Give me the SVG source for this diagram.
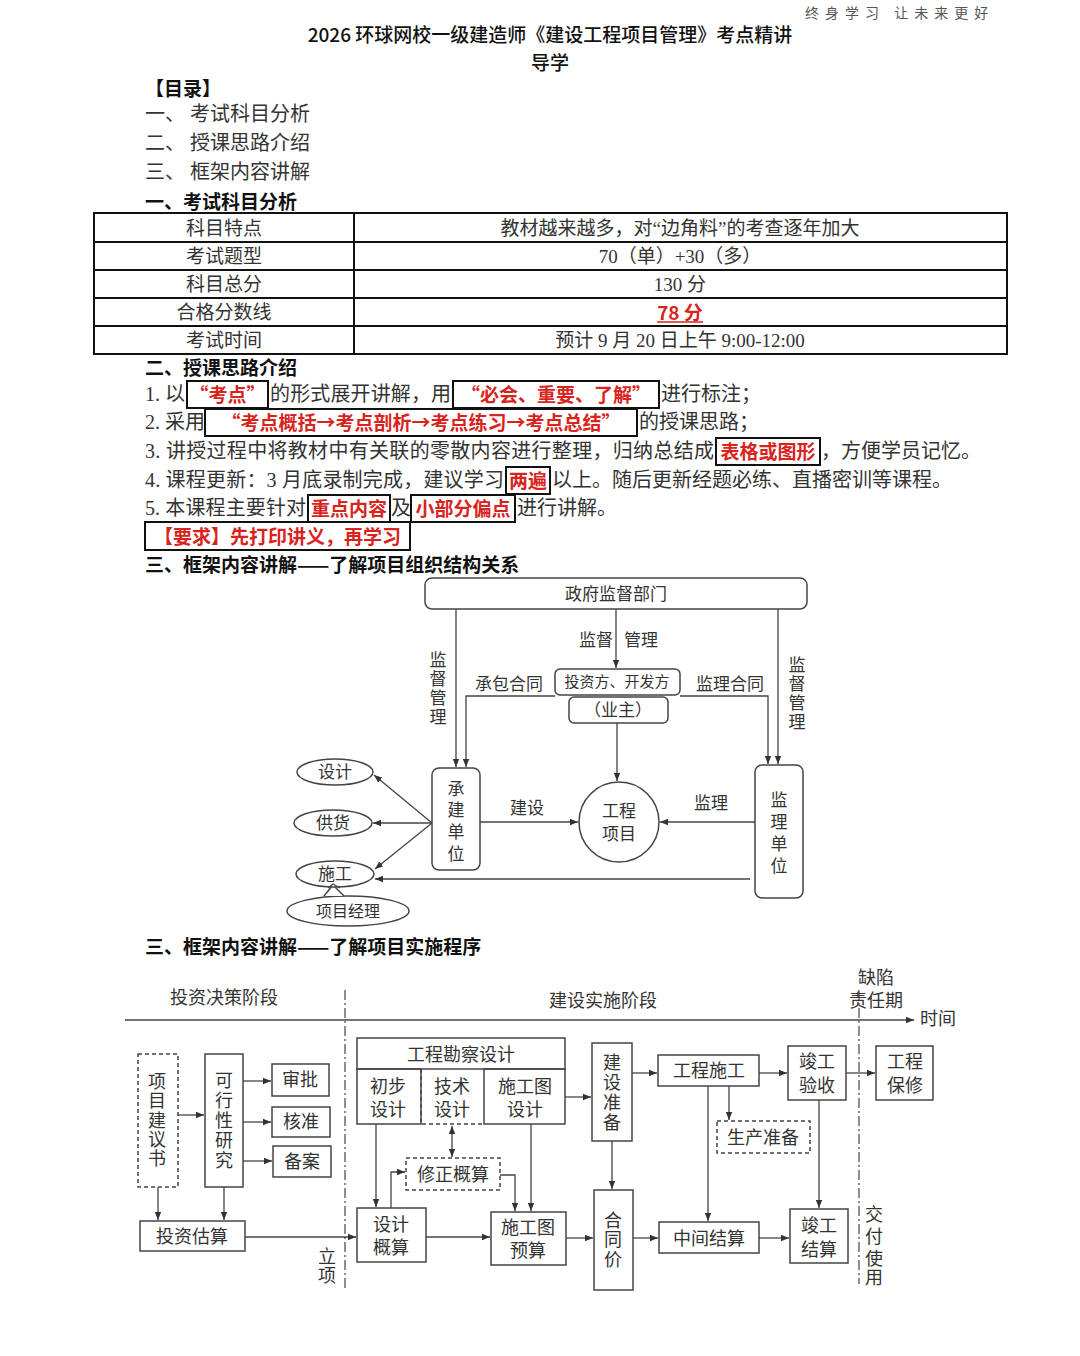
<svg xmlns="http://www.w3.org/2000/svg" width="1080" height="1356" viewBox="0 0 1080 1356">
<defs>
<style>
text{font-family:"Liberation Serif","Noto Sans CJK SC",serif;fill:#333;dominant-baseline:central}
.c{text-anchor:middle}
.h{font-family:"Noto Sans CJK SC",sans-serif;font-weight:700;fill:#111;font-size:19px}
.p{font-size:20px}
.r{font-family:"Noto Sans CJK SC",sans-serif;font-weight:700;fill:#d9231d;font-size:19px}
.tb{font-size:19px}
.o{font-size:17px}
.f{font-size:18px}
.bx{fill:none;stroke:#111;stroke-width:2}
.nd{fill:#fff;stroke:#444;stroke-width:1.5}
.dn{fill:#fff;stroke:#444;stroke-width:1.5;stroke-dasharray:4 3}
.ln{fill:none;stroke:#444;stroke-width:1.3}
.ar{fill:none;stroke:#444;stroke-width:1.3;marker-end:url(#a)}
.dd{fill:none;stroke:#444;stroke-width:1.2;stroke-dasharray:10 3 2 3}
</style>
<marker id="a" viewBox="0 0 10 10" refX="10" refY="5" markerWidth="8" markerHeight="8" markerUnits="userSpaceOnUse" orient="auto-start-reverse"><path d="M0,1 L10,5 L0,9z" fill="#333"/></marker>
</defs>
<rect width="1080" height="1356" fill="#fff"/>

<!-- header -->
<text x="805" y="12" style="font-family:'Noto Sans CJK SC',sans-serif;font-size:14px;fill:#555;letter-spacing:6px">终身学习 让未来更好</text>
<text x="550" y="33" class="c" style="font-family:'Noto Sans CJK SC',sans-serif;font-size:19px;font-weight:500;fill:#111">2026 环球网校一级建造师《建设工程项目管理》考点精讲</text>
<text x="550" y="61" class="c" style="font-family:'Noto Sans CJK SC',sans-serif;font-size:19px;font-weight:500;fill:#111">导学</text>

<!-- TOC -->
<text x="145" y="87" class="h">【目录】</text>
<text x="145" y="114" class="p">一、 考试科目分析</text>
<text x="145" y="143" class="p">二、 授课思路介绍</text>
<text x="145" y="172" class="p">三、 框架内容讲解</text>
<text x="145" y="200" class="h">一、考试科目分析</text>

<!-- table -->
<g id="table">
<rect x="94" y="213" width="913" height="141" class="bx"/>
<path d="M94 242H1007M94 270H1007M94 298H1007M94 326H1007M354 213V354" class="bx"/>
<text x="224" y="228" class="c tb">科目特点</text>
<text x="680" y="228" class="c tb">教材越来越多，对“边角料”的考查逐年加大</text>
<text x="224" y="256" class="c tb">考试题型</text>
<text x="680" y="256" class="c tb">70（单）+30（多）</text>
<text x="224" y="284" class="c tb">科目总分</text>
<text x="680" y="284" class="c tb">130 分</text>
<text x="224" y="312" class="c tb">合格分数线</text>
<text x="680" y="311" class="c r">78 分</text>
<path d="M657 322H703" stroke="#d9231d" stroke-width="1.5"/>
<text x="224" y="340" class="c tb">考试时间</text>
<text x="680" y="340" class="c tb">预计 9 月 20 日上午 9:00-12:00</text>
</g>

<!-- section 2 -->
<text x="145" y="366" class="h">二、授课思路介绍</text>
<g id="s2">
<text x="145" y="394" class="p">1. 以</text>
<rect x="187" y="381" width="81" height="27" class="bx"/>
<text x="227.5" y="393" class="c r">“考点”</text>
<text x="270" y="394" class="p" textLength="181" lengthAdjust="spacing">的形式展开讲解，用</text>
<rect x="453" y="381" width="206" height="27" class="bx"/>
<text x="556" y="393" class="c r">“必会、重要、了解”</text>
<text x="661" y="394" class="p">进行标注；</text>

<text x="145" y="422" class="p">2. 采用</text>
<rect x="205" y="409" width="432" height="27" class="bx"/>
<text x="421" y="421" class="c r">“考点概括→考点剖析→考点练习→考点总结”</text>
<text x="639" y="422" class="p">的授课思路；</text>

<text x="145" y="451" class="p" textLength="569" lengthAdjust="spacing">3. 讲授过程中将教材中有关联的零散内容进行整理，归纳总结成</text>
<rect x="716" y="438" width="104" height="27" class="bx"/>
<text x="768" y="450" class="c r">表格或图形</text>
<text x="821" y="451" class="p">，方便学员记忆。</text>

<text x="145" y="480" class="p" textLength="359" lengthAdjust="spacing">4. 课程更新：3 月底录制完成，建议学习</text>
<rect x="506" y="467" width="44" height="27" class="bx"/>
<text x="528" y="479" class="c r">两遍</text>
<text x="552" y="480" class="p">以上。随后更新经题必练、直播密训等课程。</text>

<text x="145" y="508" class="p" textLength="161" lengthAdjust="spacing">5. 本课程主要针对</text>
<rect x="308" y="495" width="82" height="27" class="bx"/>
<text x="349" y="507" class="c r">重点内容</text>
<text x="391" y="508" class="p">及</text>
<rect x="411" y="495" width="104" height="27" class="bx"/>
<text x="463" y="507" class="c r">小部分偏点</text>
<text x="517" y="508" class="p">进行讲解。</text>

<rect x="145" y="522" width="265" height="28" class="bx"/>
<text x="277.5" y="535" class="c r">【要求】先打印讲义，再学习</text>
</g>
<text x="145" y="563" class="h">三、框架内容讲解——了解项目组织结构关系</text>

<!-- org chart nodes -->
<g id="gov"><rect x="425" y="578" width="382" height="31" rx="7" class="nd"/><text x="616" y="594" class="c o">政府监督部门</text></g>
<g id="investor"><rect x="555" y="669" width="125" height="26" rx="5" class="nd"/><text x="617" y="682" class="c" style="font-size:15px">投资方、开发方</text></g>
<g id="owner"><rect x="569" y="697" width="99" height="26" rx="5" class="nd"/><text x="618" y="710" class="c o">（业主）</text></g>
<g id="contractor"><rect x="432" y="768" width="48" height="102" rx="7" class="nd"/>
<text x="456" y="789" class="c o">承</text><text x="456" y="810" class="c o">建</text><text x="456" y="832" class="c o">单</text><text x="456" y="854" class="c o">位</text></g>
<g id="supervisor"><rect x="755" y="765" width="48" height="133" rx="7" class="nd"/>
<text x="779" y="800" class="c o">监</text><text x="779" y="822" class="c o">理</text><text x="779" y="844" class="c o">单</text><text x="779" y="866" class="c o">位</text></g>
<g id="project"><circle cx="619" cy="822" r="40" class="nd"/><text x="619" y="811" class="c o">工程</text><text x="619" y="834" class="c o">项目</text></g>
<g id="design"><ellipse cx="335" cy="772" rx="38" ry="13" class="nd"/><text x="335" y="772" class="c o">设计</text></g>
<g id="supply"><ellipse cx="333" cy="823" rx="39" ry="13" class="nd"/><text x="333" y="823" class="c o">供货</text></g>
<g id="pm"><ellipse cx="348" cy="911" rx="61" ry="15" class="nd"/><text x="348" y="911" class="c" style="font-size:16px">项目经理</text></g>
<g id="construct"><path d="M324 896 L333 885 L344 896" class="nd"/><ellipse cx="335" cy="874" rx="39" ry="13" class="nd"/><path d="M328 888 L333 884 L340 888" fill="none" stroke="#444" stroke-width="1.3"/><text x="335" y="874" class="c o">施工</text></g>

<!-- org chart connectors -->
<g id="org-links">
<path d="M456 609V767" class="ar"/>
<path d="M555 696H466V767" class="ar"/>
<path d="M680 696H768V764" class="ar"/>
<path d="M778 609V764" class="ar"/>
<path d="M616 609V668" class="ar"/>
<path d="M617 723V781" class="ar"/>
<path d="M432 823L374 775" class="ar"/>
<path d="M432 823H373" class="ar"/>
<path d="M432 823L375 869" class="ar"/>
<path d="M480 822H578" class="ar"/>
<path d="M755 822H660" class="ar"/>
<path d="M750 879H375" class="ar"/>
</g>
<g id="org-labels">
<text x="596" y="640" class="c o">监督</text><text x="641" y="640" class="c o">管理</text>
<text x="509" y="684" class="c o">承包合同</text><text x="730" y="684" class="c o">监理合同</text>
<text x="527" y="808" class="c o">建设</text><text x="711" y="803" class="c o">监理</text>
<text x="438" y="660" class="c o">监</text><text x="438" y="679" class="c o">督</text><text x="438" y="698" class="c o">管</text><text x="438" y="717" class="c o">理</text>
<text x="797" y="665" class="c o">监</text><text x="797" y="684" class="c o">督</text><text x="797" y="703" class="c o">管</text><text x="797" y="722" class="c o">理</text>
</g>

<text x="145" y="945" class="h">三、框架内容讲解——了解项目实施程序</text>

<!-- timeline -->
<g id="timeline">
<text x="224" y="998" class="c f">投资决策阶段</text>
<text x="603" y="1001" class="c f">建设实施阶段</text>
<text x="876" y="978" class="c f">缺陷</text>
<text x="876" y="1001" class="c f">责任期</text>
<path d="M125 1020H914" class="ar"/>
<text x="920" y="1019" class="f">时间</text>
<path d="M345 990V1290" class="dd"/>
<path d="M859 990V1284" class="dd"/>
<text x="327" y="1257" class="c f">立</text><text x="327" y="1276" class="c f">项</text>
<text x="874" y="1215" class="c f">交</text><text x="874" y="1237" class="c f">付</text><text x="874" y="1259" class="c f">使</text><text x="874" y="1278" class="c f">用</text>
</g>

<!-- flow nodes -->
<g id="proposal"><rect x="138" y="1054" width="40" height="133" class="dn"/>
<text x="157" y="1082" class="c f">项</text><text x="157" y="1101" class="c f">目</text><text x="157" y="1121" class="c f">建</text><text x="157" y="1140" class="c f">议</text><text x="157" y="1159" class="c f">书</text></g>
<g id="feasibility"><rect x="205" y="1054" width="38" height="133" class="nd"/>
<text x="224" y="1081" class="c f">可</text><text x="224" y="1101" class="c f">行</text><text x="224" y="1121" class="c f">性</text><text x="224" y="1141" class="c f">研</text><text x="224" y="1161" class="c f">究</text></g>
<g id="approve"><rect x="272" y="1064" width="57" height="32" class="nd"/><text x="300" y="1080" class="c f">审批</text></g>
<g id="verify"><rect x="272" y="1107" width="58" height="30" class="nd"/><text x="301" y="1122" class="c f">核准</text></g>
<g id="record"><rect x="273" y="1146" width="58" height="31" class="nd"/><text x="302" y="1162" class="c f">备案</text></g>
<g id="estimate"><rect x="140" y="1221" width="105" height="30" class="nd"/><text x="192" y="1237" class="c f">投资估算</text></g>
<g id="survey">
<rect x="357" y="1038" width="208" height="31" class="nd"/><text x="461" y="1055" class="c f">工程勘察设计</text>
<path d="M421 1069V1124H484" fill="none" stroke="#444" stroke-width="1.5" stroke-dasharray="4 3"/>
<rect x="357" y="1069" width="64" height="55" class="nd" style="fill:none"/>
<rect x="484" y="1069" width="81" height="55" class="nd" style="fill:none"/>
<text x="388" y="1087" class="c f">初步</text><text x="388" y="1110" class="c f">设计</text>
<text x="452" y="1087" class="c f">技术</text><text x="452" y="1110" class="c f">设计</text>
<text x="525" y="1087" class="c f">施工图</text><text x="525" y="1110" class="c f">设计</text>
</g>
<g id="revised"><rect x="406" y="1158" width="94" height="32" class="dn"/><text x="453" y="1175" class="c f">修正概算</text></g>
<g id="budget"><rect x="357" y="1208" width="69" height="54" class="nd"/><text x="391" y="1225" class="c f">设计</text><text x="391" y="1248" class="c f">概算</text></g>
<g id="drawbudget"><rect x="491" y="1212" width="75" height="53" class="nd"/><text x="528" y="1228" class="c f">施工图</text><text x="528" y="1251" class="c f">预算</text></g>
<g id="prep"><rect x="592" y="1043" width="40" height="98" class="nd"/>
<text x="612" y="1063" class="c f">建</text><text x="612" y="1083" class="c f">设</text><text x="612" y="1103" class="c f">准</text><text x="612" y="1123" class="c f">备</text></g>
<g id="contract"><rect x="594" y="1190" width="39" height="100" class="nd"/>
<text x="613" y="1221" class="c f">合</text><text x="613" y="1240" class="c f">同</text><text x="613" y="1260" class="c f">价</text></g>
<g id="build"><rect x="658" y="1055" width="101" height="31" class="nd"/><text x="709" y="1071" class="c f">工程施工</text></g>
<g id="prodprep"><rect x="717" y="1121" width="93" height="32" class="dn"/><text x="763" y="1138" class="c f">生产准备</text></g>
<g id="midsettle"><rect x="659" y="1222" width="100" height="31" class="nd"/><text x="709" y="1239" class="c f">中间结算</text></g>
<g id="accept"><rect x="788" y="1046" width="58" height="54" class="nd"/><text x="817" y="1062" class="c f">竣工</text><text x="817" y="1086" class="c f">验收</text></g>
<g id="finalsettle"><rect x="790" y="1209" width="58" height="54" class="nd"/><text x="819" y="1226" class="c f">竣工</text><text x="819" y="1250" class="c f">结算</text></g>
<g id="warranty"><rect x="876" y="1046" width="57" height="54" class="nd"/><text x="905" y="1062" class="c f">工程</text><text x="905" y="1086" class="c f">保修</text></g>

<!-- flow connectors -->
<g id="flow-links">
<path d="M178 1115H204" class="ar"/>
<path d="M243 1081H271" class="ar"/>
<path d="M243 1122H271" class="ar"/>
<path d="M243 1161H272" class="ar"/>
<path d="M158 1187V1220" class="ar"/>
<path d="M224 1187V1220" class="ar"/>
<path d="M245 1237H356" class="ar"/>
<path d="M376 1124V1207" class="ar"/>
<path d="M391 1208V1172H405" class="ar"/>
<path d="M452 1126V1157" class="ar" style="marker-start:url(#a)"/>
<path d="M500 1175H515V1211" class="ar"/>
<path d="M531 1124V1211" class="ar"/>
<path d="M426 1237H490" class="ar"/>
<path d="M565 1097H591" class="ar"/>
<path d="M612 1141V1189" class="ar"/>
<path d="M566 1238H593" class="ar"/>
<path d="M632 1073H657" class="ar"/>
<path d="M759 1073H787" class="ar"/>
<path d="M846 1073H875" class="ar"/>
<path d="M729 1086V1120" class="ar"/>
<path d="M708 1086V1221" class="ar"/>
<path d="M633 1238H658" class="ar"/>
<path d="M759 1238H789" class="ar"/>
<path d="M819 1100V1208" class="ar"/>
</g>
</svg>
